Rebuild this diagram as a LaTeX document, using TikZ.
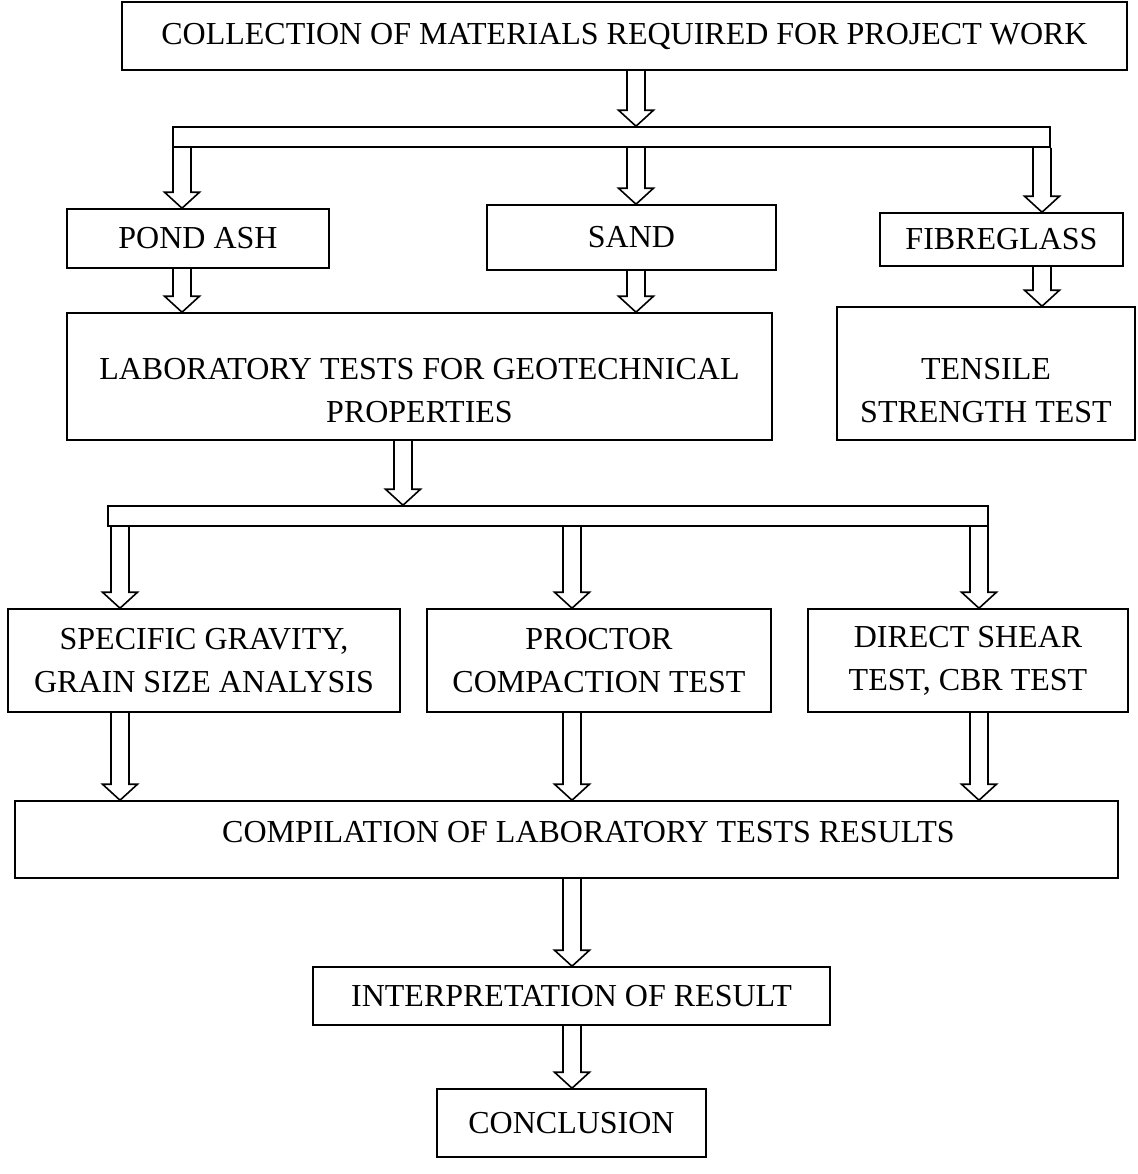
\documentclass[tikz,border=0pt]{standalone}
\usepackage{fontspec}
\setmainfont{Liberation Serif}
\usetikzlibrary{calc}
\tikzset{
  box/.style={draw,line width=0.8pt,align=center,inner sep=0pt,font=\fontsize{16}{21.5}\selectfont},
  bar/.style={draw,line width=0.8pt,inner sep=0pt,minimum height=10pt},
  hollow/.style={line width=0.8pt,line join=miter,to path={
    ($(\tikztostart)+(-4.5pt,0)$) -- ($(\tikztotarget)+(-4.5pt,8pt)$) -- ($(\tikztotarget)+(-8.75pt,8pt)$)
    -- (\tikztotarget) -- ($(\tikztotarget)+(8.75pt,8pt)$) -- ($(\tikztotarget)+(4.5pt,8pt)$) -- ($(\tikztostart)+(4.5pt,0)$)}}
}
\begin{document}
\begin{tikzpicture}[x=0.5pt,y=-0.5pt]
\useasboundingbox (0,0) rectangle (1137,1174);
\node[box,minimum width=502.5pt,minimum height=34pt] (collect) at (624.5,36) {COLLECTION OF MATERIALS REQUIRED FOR PROJECT WORK};
\node[bar,minimum width=438.5pt] (bar1) at (611.5,137) {};
\node[box,minimum width=131pt,minimum height=29.5pt] (pond) at (198,238.5) {POND ASH};
\node[box,minimum width=144.5pt,minimum height=32.5pt] (sand) at (631.5,237.5) {SAND};
\node[box,minimum width=121.5pt,minimum height=26.5pt] (fibre) at (1001.5,239.5) {FIBREGLASS};
\node[box,minimum width=352.5pt,minimum height=63.5pt,text height=50pt,text depth=4.5pt] (lab) at (419.5,376.5) {LABORATORY TESTS FOR GEOTECHNICAL\\PROPERTIES};
\node[box,minimum width=149pt,minimum height=66.5pt,text height=53pt,text depth=4.5pt] (tensile) at (986,373.5) {TENSILE\\STRENGTH TEST};
\node[bar,minimum width=440pt] (bar2) at (548,516) {};
\node[box,minimum width=196pt,minimum height=51.5pt] (gravity) at (204,660.5) {SPECIFIC GRAVITY,\\GRAIN SIZE ANALYSIS};
\node[box,minimum width=172pt,minimum height=51.5pt] (proctor) at (599,660.5) {PROCTOR\\COMPACTION TEST};
\node[box,minimum width=160pt,minimum height=51.5pt] (shear) at (968,660.5) {DIRECT SHEAR\\TEST, CBR TEST};
\node[box,minimum width=551.5pt,minimum height=38.5pt,text height=6pt,text depth=3.5pt] (compile) at (566.5,839.5) {\hspace*{22pt}COMPILATION OF LABORATORY TESTS RESULTS};
\node[box,minimum width=258.5pt,minimum height=29pt] (interp) at (571.5,996) {INTERPRETATION OF RESULT};
\node[box,minimum width=134.5pt,minimum height=34pt] (concl) at (571.5,1123) {CONCLUSION};
% arrow columns
\coordinate (xpond) at (182,0);
\coordinate (xsand) at (636,0);
\coordinate (xfibre) at (1042,0);
\coordinate (xlab) at (403,0);
\coordinate (xgrav) at (120,0);
\coordinate (xmid) at (572,0);
\coordinate (xshear) at (979,0);
\foreach \a/\b/\c in {collect/bar1/xsand, bar1/pond/xpond, bar1/sand/xsand, bar1/fibre/xfibre,
    pond/lab/xpond, sand/lab/xsand, fibre/tensile/xfibre, lab/bar2/xlab,
    bar2/gravity/xgrav, bar2/proctor/xmid, bar2/shear/xshear,
    gravity/compile/xgrav, proctor/compile/xmid, shear/compile/xshear,
    compile/interp/xmid, interp/concl/xmid}
  \draw[hollow] (\a.south -| \c) to (\b.north -| \c);
\end{tikzpicture}
\end{document}
